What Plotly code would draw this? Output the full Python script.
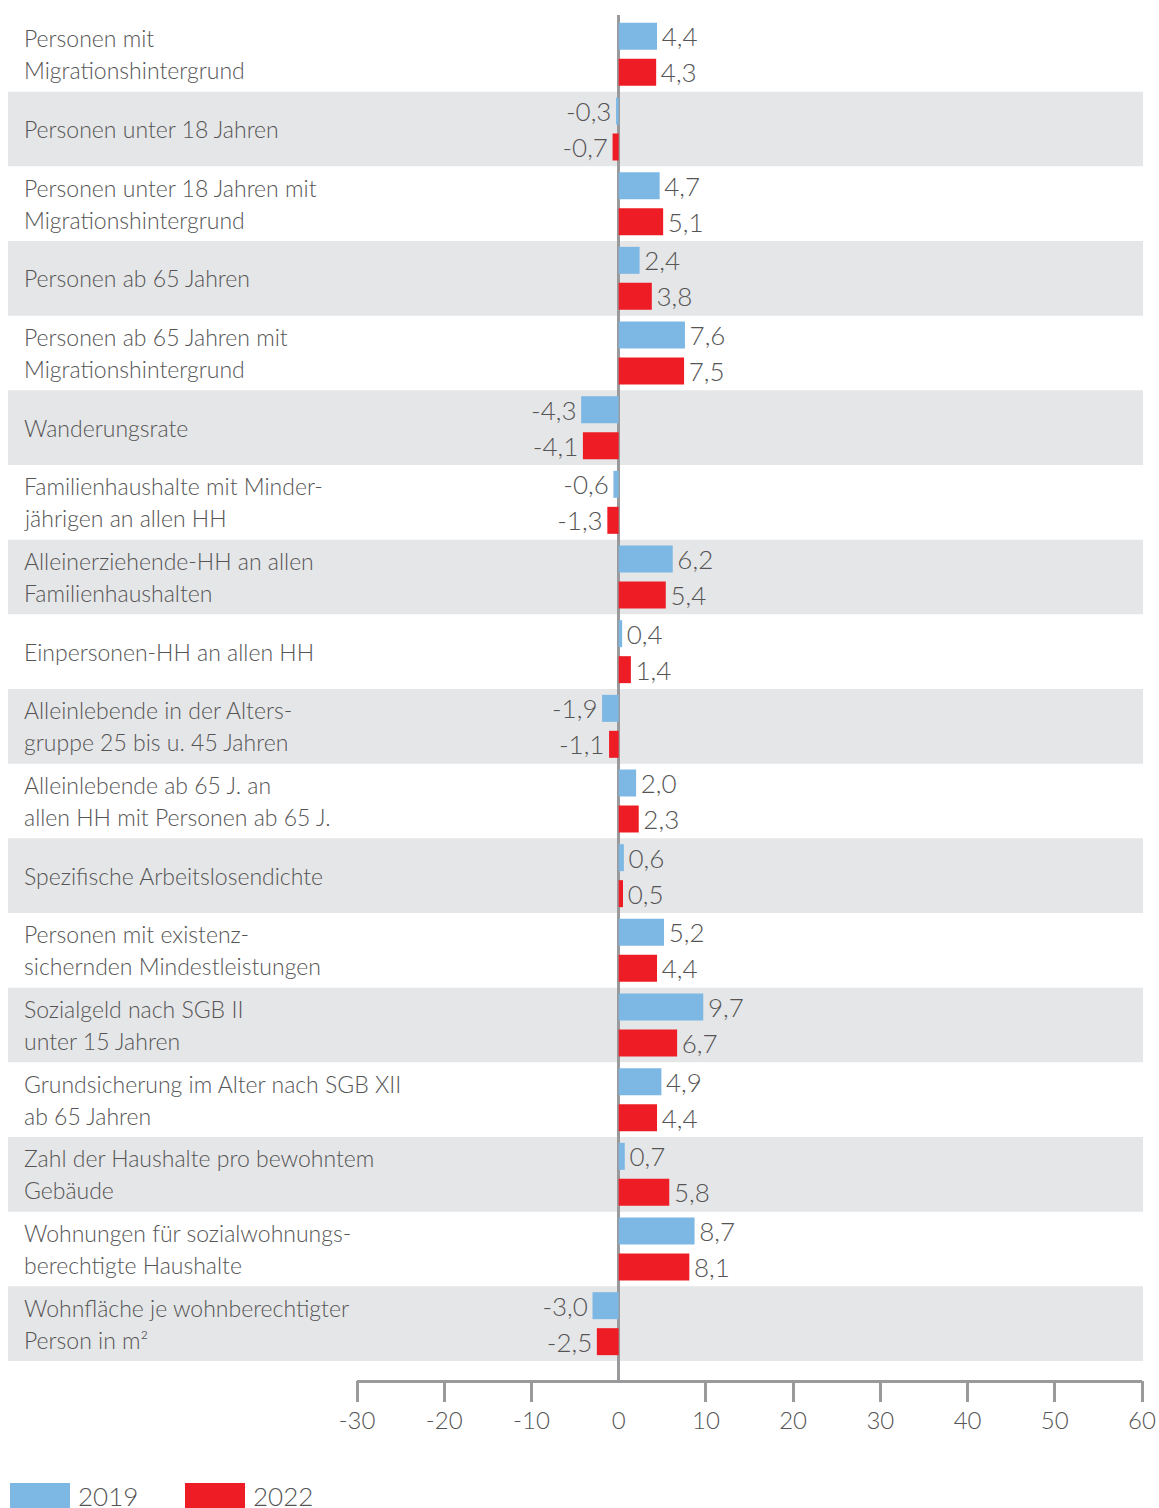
import plotly.graph_objects as go

categories = [
    "Personen mit<br>Migrationshintergrund",
    "Personen unter 18 Jahren",
    "Personen unter 18 Jahren mit<br>Migrationshintergrund",
    "Personen ab 65 Jahren",
    "Personen ab 65 Jahren mit<br>Migrationshintergrund",
    "Wanderungsrate",
    "Familienhaushalte mit Minder-<br>jährigen an allen HH",
    "Alleinerziehende-HH an allen<br>Familienhaushalten",
    "Einpersonen-HH an allen HH",
    "Alleinlebende in der Alters-<br>gruppe 25 bis u. 45 Jahren",
    "Alleinlebende ab 65 J. an<br>allen HH mit Personen ab 65 J.",
    "Spezifische Arbeitslosendichte",
    "Personen mit existenz-<br>sichernden Mindestleistungen",
    "Sozialgeld nach SGB II<br>unter 15 Jahren",
    "Grundsicherung im Alter nach SGB XII<br>ab 65 Jahren",
    "Zahl der Haushalte pro bewohntem<br>Gebäude",
    "Wohnungen für sozialwohnungs-<br>berechtigte Haushalte",
    "Wohnfläche je wohnberechtigter<br>Person in m²",
]
values_2019 = [4.4, -0.3, 4.7, 2.4, 7.6, -4.3, -0.6, 6.2, 0.4, -1.9, 2.0, 0.6, 5.2, 9.7, 4.9, 0.7, 8.7, -3.0]
values_2022 = [4.3, -0.7, 5.1, 3.8, 7.5, -4.1, -1.3, 5.4, 1.4, -1.1, 2.3, 0.5, 4.4, 6.7, 4.4, 5.8, 8.1, -2.5]
series_names = ["2019", "2022"]
tick_values = [-30, -20, -10, 0, 10, 20, 30, 40, 50, 60]
tick_labels = ["-30", "-20", "-10", "0", "10", "20", "30", "40", "50", "60"]

BLUE = "#7db8e4"
RED = "#ee1c25"
BAND = "#e5e6e8"
AXIS = "#9a9a9c"
TEXT = "#555555"
FONT = "Lato, 'Noto Sans', sans-serif"
WEIGHT = 300

W, H = 1159, 1508
ML, MR, MT, MB = 357, 17, 15, 128
plot_w = W - ML - MR
plot_h = H - MT - MB

HS = "\u200a"  # hair space for a small gap between bar end and value label

fig = go.Figure()
for name, vals, col in [(series_names[0], values_2019, BLUE), (series_names[1], values_2022, RED)]:
    tmpl = [(HS + "%{x:.1f}") if v >= 0 else ("%{x:.1f}" + HS) for v in vals]
    fig.add_trace(go.Bar(
        name=name, y=categories, x=vals, orientation="h",
        marker=dict(color=col, line=dict(width=0)),
        texttemplate=tmpl, textposition="outside",
        textfont=dict(family=FONT, size=26, color=TEXT, weight=WEIGHT),
        constraintext="none", cliponaxis=False, showlegend=False,
    ))

# invisible trace anchoring the tick-only overlay axis
fig.add_trace(go.Scatter(x=[0], y=[categories[0]], xaxis="x2", mode="markers",
                         marker=dict(opacity=0), showlegend=False, hoverinfo="skip"))


def px_to_paper_x(px):
    return (px - ML) / plot_w


def px_to_paper_y(py):
    return (H - MB - py) / plot_h


shapes = []
for i in range(len(categories)):
    if i % 2 == 1:
        shapes.append(dict(type="rect", xref="paper", yref="y",
                           x0=px_to_paper_x(8), x1=px_to_paper_x(1143),
                           y0=i - 0.5, y1=i + 0.5, fillcolor=BAND,
                           line=dict(width=0), layer="below"))

annotations = []
for i, c in enumerate(categories):
    lines = c.split("<br>")
    k = len(lines)
    for j, ln in enumerate(lines):
        shift = (j - (k - 1) / 2) * -32
        annotations.append(dict(xref="paper", yref="y", x=px_to_paper_x(22), y=c,
                                yshift=shift, text=ln, showarrow=False,
                                xanchor="left", yanchor="middle", align="left",
                                font=dict(family=FONT, size=23, color=TEXT, weight=WEIGHT)))

# legend
legend_items = [(series_names[0], BLUE, 10), (series_names[1], RED, 185)]
for name, col, x0 in legend_items:
    shapes.append(dict(type="rect", xref="paper", yref="paper",
                       x0=px_to_paper_x(x0), x1=px_to_paper_x(x0 + 60),
                       y0=px_to_paper_y(1508), y1=px_to_paper_y(1483),
                       fillcolor=col, line=dict(width=0)))
    annotations.append(dict(xref="paper", yref="paper", x=px_to_paper_x(x0 + 66),
                            y=px_to_paper_y(1496), text=name, showarrow=False,
                            xanchor="left", yanchor="middle",
                            font=dict(family=FONT, size=26, color=TEXT, weight=WEIGHT)))

n = len(categories)
top = -0.5 - 2 / 74.67
bottom = n - 0.5 + 19 / 74.67

fig.update_layout(
    width=W, height=H,
    margin=dict(l=ML, r=MR, t=MT, b=MB, autoexpand=False),
    paper_bgcolor="white", plot_bgcolor="white",
    barmode="group", bargap=0.036, bargroupgap=0.25,
    separators=", ",
    shapes=shapes, annotations=annotations,
    showlegend=False,
    xaxis=dict(range=[-30, 60], tickvals=tick_values, ticktext=tick_labels,
               ticks="", showgrid=False, automargin=False,
               zeroline=True, zerolinecolor=AXIS, zerolinewidth=3,
               showline=True, linecolor=AXIS, linewidth=3,
               tickfont=dict(family=FONT, size=24, color=TEXT, weight=WEIGHT),
               ticklabelstandoff=17),
    xaxis2=dict(range=[-30, 60], overlaying="x", anchor="y", side="bottom",
                tickvals=[v for v in tick_values if v != 0], ticks="outside",
                ticklen=21, tickwidth=3, tickcolor=AXIS, showticklabels=False,
                showgrid=False, zeroline=False, showline=False, automargin=False),
    yaxis=dict(range=[bottom, top], showticklabels=False, ticks="",
               showgrid=False, zeroline=False, showline=False, automargin=False),
)

fig.write_html("out.html", config={"displayModeBar": False},
               post_script="document.body.style.margin='0';document.body.style.overflow='hidden';")
